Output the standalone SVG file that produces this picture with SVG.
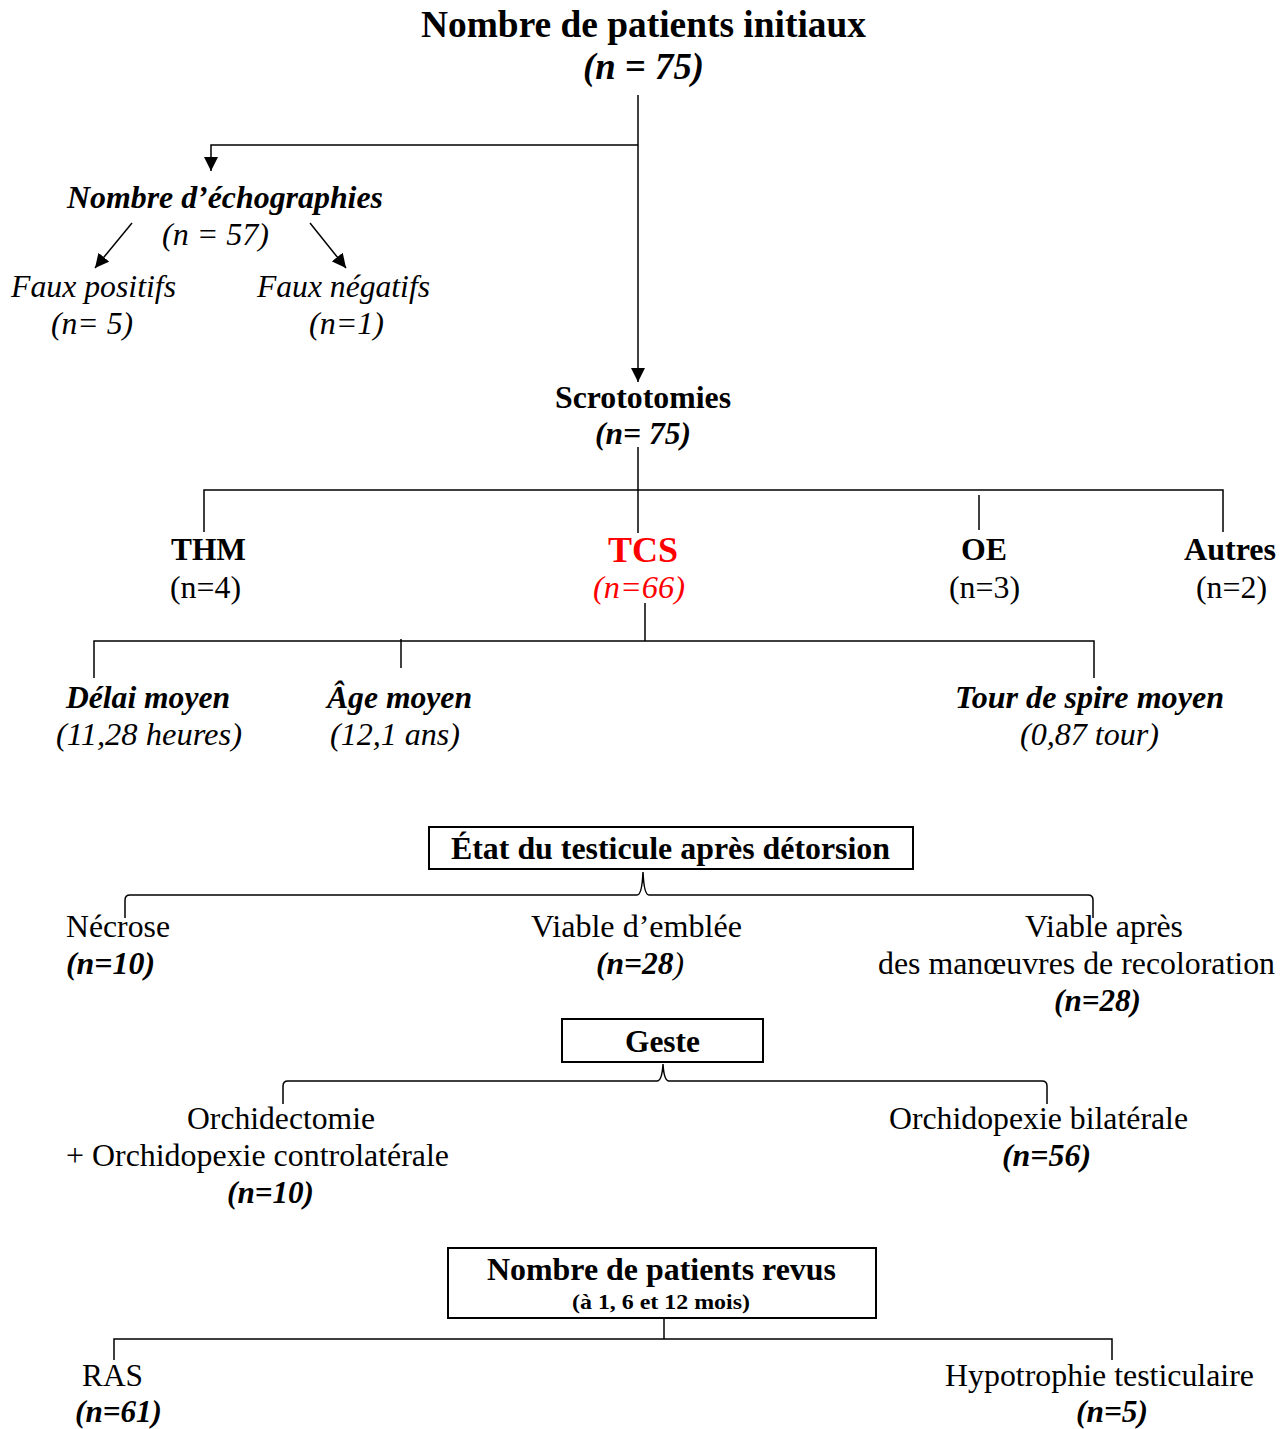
<svg xmlns="http://www.w3.org/2000/svg" width="1284" height="1429" viewBox="0 0 1284 1429">
<style>
text{font-family:"Liberation Serif","Times New Roman",serif;font-size:32px;fill:#000}
.b{font-weight:bold}
.i{font-style:italic}
.bi{font-weight:bold;font-style:italic}
.red{fill:#ff0000}
.ln{fill:none;stroke:#000;stroke-width:1.5}
.box{fill:#fff;stroke:#000;stroke-width:2}
</style>
<defs>
<marker id="ah" viewBox="0 0 10 10" refX="10" refY="5" markerWidth="14" markerHeight="14" markerUnits="userSpaceOnUse" orient="auto">
<path d="M0,0 L10,5 L0,10 Z" fill="#000"/>
</marker>
</defs>
<g id="connectors">
<path class="ln" d="M638,95 V382" marker-end="url(#ah)"/>
<path class="ln" d="M638,145 H211 V171" marker-end="url(#ah)"/>
<path class="ln" d="M132,223 L95,268" marker-end="url(#ah)"/>
<path class="ln" d="M310,223 L346,268" marker-end="url(#ah)"/>
<path class="ln" d="M638,447 V533"/>
<path class="ln" d="M204,532 V490 H1223 V532"/>
<path class="ln" d="M979,495 V530"/>
<path class="ln" d="M645,603 V641"/>
<path class="ln" d="M94,678 V641 H1094 V678"/>
<path class="ln" d="M401,639 V668"/>
<path class="ln" d="M125,918 V900 Q125,895 130,895 H637 Q642,895 643,872 Q644,895 649,895 H1088 Q1093,895 1093,900 V918"/>
<path class="ln" d="M283,1104 V1086 Q283,1081 288,1081 H657 Q662,1081 663,1064 Q664,1081 669,1081 H1042 Q1047,1081 1047,1086 V1104"/>
<path class="ln" d="M664,1318 V1339"/>
<path class="ln" d="M114,1360 V1339 H1112 V1360"/>
</g>
<g id="n-initial">
<text class="b" x="421" y="37" style="font-size:37px" textLength="445" lengthAdjust="spacingAndGlyphs">Nombre de patients initiaux</text>
<text class="bi" x="583" y="79" style="font-size:37px" textLength="121" lengthAdjust="spacingAndGlyphs">(n = 75)</text>
</g>
<g id="n-echo">
<text class="bi" x="67" y="208" textLength="316" lengthAdjust="spacingAndGlyphs">Nombre d’échographies</text>
<text class="i" x="162" y="245" textLength="107" lengthAdjust="spacingAndGlyphs">(n = 57)</text>
</g>
<g id="n-fp">
<text class="i" x="11" y="297" textLength="165" lengthAdjust="spacingAndGlyphs">Faux positifs</text>
<text class="i" x="51" y="334" textLength="82" lengthAdjust="spacingAndGlyphs">(n= 5)</text>
</g>
<g id="n-fn">
<text class="i" x="257" y="297" textLength="173" lengthAdjust="spacingAndGlyphs">Faux négatifs</text>
<text class="i" x="309" y="334" textLength="75" lengthAdjust="spacingAndGlyphs">(n=1)</text>
</g>
<g id="n-scroto">
<text class="b" x="555" y="408" textLength="176" lengthAdjust="spacingAndGlyphs">Scrototomies</text>
<text class="bi" x="595" y="444" textLength="96" lengthAdjust="spacingAndGlyphs">(n= 75)</text>
</g>
<g id="n-thm">
<text class="b" x="171" y="560" textLength="75" lengthAdjust="spacingAndGlyphs">THM</text>
<text x="170" y="598" textLength="71" lengthAdjust="spacingAndGlyphs">(n=4)</text>
</g>
<g id="n-tcs">
<text class="b red" x="608" y="562" style="font-size:36px" textLength="70" lengthAdjust="spacingAndGlyphs">TCS</text>
<text class="i red" x="593" y="598" textLength="92" lengthAdjust="spacingAndGlyphs">(n=66)</text>
</g>
<g id="n-oe">
<text class="b" x="961" y="560" textLength="46" lengthAdjust="spacingAndGlyphs">OE</text>
<text x="949" y="598" textLength="71" lengthAdjust="spacingAndGlyphs">(n=3)</text>
</g>
<g id="n-autres">
<text class="b" x="1184" y="560" textLength="92" lengthAdjust="spacingAndGlyphs">Autres</text>
<text x="1196" y="598" textLength="71" lengthAdjust="spacingAndGlyphs">(n=2)</text>
</g>
<g id="n-delai">
<text class="bi" x="66" y="708" textLength="164" lengthAdjust="spacingAndGlyphs">Délai moyen</text>
<text class="i" x="56" y="745" textLength="186" lengthAdjust="spacingAndGlyphs">(11,28 heures)</text>
</g>
<g id="n-age">
<text class="bi" x="327" y="708" textLength="145" lengthAdjust="spacingAndGlyphs">Âge moyen</text>
<text class="i" x="330" y="745" textLength="130" lengthAdjust="spacingAndGlyphs">(12,1 ans)</text>
</g>
<g id="n-tour">
<text class="bi" x="955" y="708" textLength="269" lengthAdjust="spacingAndGlyphs">Tour de spire moyen</text>
<text class="i" x="1020" y="745" textLength="139" lengthAdjust="spacingAndGlyphs">(0,87 tour)</text>
</g>
<g id="n-etat">
<rect class="box" x="429" y="827" width="484" height="42"/>
<text class="b" x="451" y="859" textLength="439" lengthAdjust="spacingAndGlyphs">État du testicule après détorsion</text>
</g>
<g id="n-necrose">
<text x="66" y="937" textLength="104" lengthAdjust="spacingAndGlyphs">Nécrose</text>
<text class="bi" x="66" y="974" textLength="89" lengthAdjust="spacingAndGlyphs">(n=10)</text>
</g>
<g id="n-viable1">
<text x="531" y="937" textLength="211" lengthAdjust="spacingAndGlyphs">Viable d’emblée</text>
<text class="bi" x="596" y="974" textLength="88" lengthAdjust="spacingAndGlyphs">(n=28<tspan class="i" style="font-weight:normal">)</tspan></text>
</g>
<g id="n-viable2">
<text x="1025" y="937" textLength="158" lengthAdjust="spacingAndGlyphs">Viable après</text>
<text x="878" y="974" textLength="397" lengthAdjust="spacingAndGlyphs">des manœuvres de recoloration</text>
<text class="bi" x="1054" y="1011" textLength="87" lengthAdjust="spacingAndGlyphs">(n=28)</text>
</g>
<g id="n-geste">
<rect class="box" x="562" y="1019" width="201" height="43"/>
<text class="b" x="625" y="1052" textLength="75" lengthAdjust="spacingAndGlyphs">Geste</text>
</g>
<g id="n-orchidectomie">
<text x="187" y="1129" textLength="188" lengthAdjust="spacingAndGlyphs">Orchidectomie</text>
<text x="66" y="1166" textLength="383" lengthAdjust="spacingAndGlyphs">+ Orchidopexie controlatérale</text>
<text class="bi" x="227" y="1203" textLength="87" lengthAdjust="spacingAndGlyphs">(n=10)</text>
</g>
<g id="n-orchidopexie">
<text x="889" y="1129" textLength="299" lengthAdjust="spacingAndGlyphs">Orchidopexie bilatérale</text>
<text class="bi" x="1002" y="1166" textLength="89" lengthAdjust="spacingAndGlyphs">(n=56)</text>
</g>
<g id="n-revus">
<rect class="box" x="448" y="1248" width="428" height="70"/>
<text class="b" x="487" y="1280" textLength="349" lengthAdjust="spacingAndGlyphs">Nombre de patients revus</text>
<text class="b" x="572" y="1309" style="font-size:21px" textLength="178" lengthAdjust="spacingAndGlyphs">(à 1, 6 et 12 mois)</text>
</g>
<g id="n-ras">
<text x="82" y="1386" textLength="61" lengthAdjust="spacingAndGlyphs">RAS</text>
<text class="bi" x="75" y="1422" textLength="87" lengthAdjust="spacingAndGlyphs">(n=61)</text>
</g>
<g id="n-hypo">
<text x="945" y="1386" textLength="309" lengthAdjust="spacingAndGlyphs">Hypotrophie testiculaire</text>
<text class="bi" x="1076" y="1422" textLength="72" lengthAdjust="spacingAndGlyphs">(n=5)</text>
</g>
</svg>
